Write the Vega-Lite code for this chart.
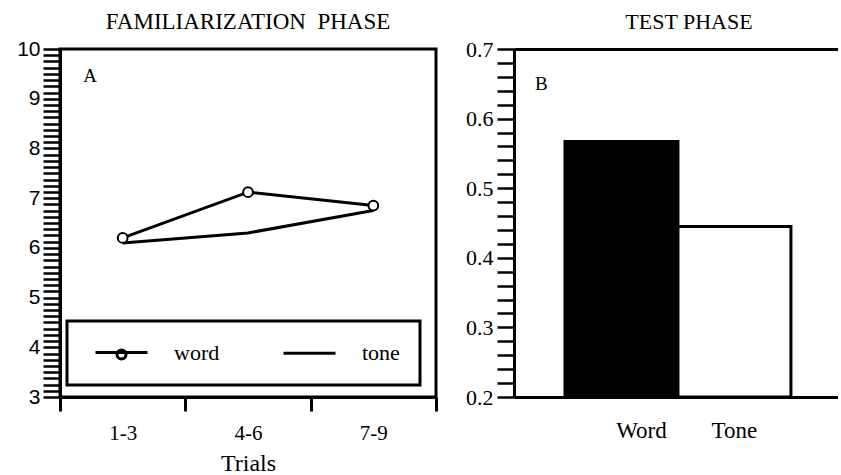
{
  "$schema": "https://vega.github.io/schema/vega-lite/v6.json",
  "background": "white",
  "padding": {"left": 15, "top": 9, "right": 0, "bottom": 0},
  "spacing": 26,
  "resolve": {"scale": {"color": "independent"}, "legend": {"color": "independent"}},
  "config": {
    "font": "Liberation Serif",
    "axis": {"labelColor": "black", "tickColor": "black", "domainColor": "black", "titleColor": "black", "grid": false, "titleFontWeight": "normal", "domainWidth": 3},
    "title": {"font": "Liberation Serif", "fontWeight": "normal", "color": "black", "anchor": "middle", "frame": "group"}
  },
  "hconcat": [
    {
      "title": {"text": "FAMILIARIZATION\u00a0 PHASE", "fontSize": 23, "offset": 4},
      "width": 376,
      "height": 348,
      "view": {"stroke": "black", "strokeWidth": 3},
      "data": {"values": [
        {"trials": "1-3", "series": "word", "value": 6.2},
        {"trials": "4-6", "series": "word", "value": 7.12},
        {"trials": "7-9", "series": "word", "value": 6.85},
        {"trials": "1-3", "series": "tone", "value": 6.1},
        {"trials": "4-6", "series": "tone", "value": 6.3},
        {"trials": "7-9", "series": "tone", "value": 6.75}
      ]},
      "layer": [
        {
          "mark": {"type": "line", "strokeWidth": 3},
          "encoding": {
            "x": {"field": "trials", "type": "nominal", "scale": {"domain": ["1-3", "4-6", "7-9"], "paddingInner": 0, "paddingOuter": 0},
              "axis": {"title": "Trials", "titleFont": "Liberation Serif", "titleFontSize": 24, "titlePadding": 8, "labelAngle": 0, "labelFont": "Liberation Serif", "labelFontSize": 21, "labelPadding": 11, "tickBand": "extent", "tickSize": 14, "tickWidth": 3}},
            "y": {"field": "value", "type": "quantitative", "scale": {"domain": [3, 10], "zero": false, "nice": false},
              "axis": {"title": null, "labelFont": "Liberation Sans", "labelFontSize": 21, "labelPadding": 3, "tickSize": 17, "tickWidth": 2.5, "labelOverlap": false, "labelFlush": false, "format": ".0f", "tickCount": 200,
                "values": [3,3.125,3.25,3.375,3.5,3.625,3.75,3.875,4,4.125,4.25,4.375,4.5,4.625,4.75,4.875,5,5.125,5.25,5.375,5.5,5.625,5.75,5.875,6,6.125,6.25,6.375,6.5,6.625,6.75,6.875,7,7.125,7.25,7.375,7.5,7.625,7.75,7.875,8,8.125,8.25,8.375,8.5,8.625,8.75,8.875,9,9.125,9.25,9.375,9.5,9.625,9.75,9.875,10],
                "labelExpr": "abs(datum.value - round(datum.value)) < 0.001 ? datum.label : ''",
                "encode": {"ticks": {"update": {
                  "x": {"signal": "abs(datum.value - round(datum.value)) < 0.001 ? 0 : 4"},
                  "x2": {"signal": "abs(datum.value - round(datum.value)) < 0.001 ? -17 : -8"}
                }}}}},
            "color": {"field": "series", "type": "nominal", "scale": {"domain": ["word", "tone"], "range": ["black", "black"]},
              "legend": {"title": null, "orient": "none", "legendX": 7, "legendY": 272, "direction": "horizontal",
                "strokeColor": "black", "fillColor": "white", "padding": 20,
                "symbolSize": 400, "symbolStrokeWidth": 3, "symbolStrokeColor": "black", "symbolFillColor": "white",
                "symbolOffset": 23, "labelOffset": 41, "columnPadding": 55,
                "labelFont": "Liberation Serif", "labelFontSize": 22, "labelColor": "black",
                "encode": {
                  "legend": {"update": {"strokeWidth": {"value": 3}}},
                  "symbols": {"update": {
                    "shape": {"signal": "datum.value === 'word' ? 'M-2.6,0L2.6,0M-0.45,0.2A0.45,0.45 0 1,0 0.45,0.2A0.45,0.45 0 1,0 -0.45,0.2Z' : 'M-2.6,0L2.6,0'"},
                    "fill": {"value": "white"},
                    "stroke": {"value": "black"},
                    "strokeWidth": {"value": 3}
                  }}
                }}}
          }
        },
        {
          "transform": [{"filter": "datum.series === 'word'"}],
          "mark": {"type": "point", "shape": "circle", "filled": true, "fill": "white", "stroke": "black", "strokeWidth": 2, "size": 95, "opacity": 1},
          "encoding": {
            "x": {"field": "trials", "type": "nominal"},
            "y": {"field": "value", "type": "quantitative"}
          }
        },
        {
          "data": {"values": [{"panel": "A"}]},
          "mark": {"type": "text", "font": "Liberation Serif", "fontSize": 19, "color": "black"},
          "encoding": {
            "x": {"datum": "1-3", "type": "nominal", "bandPosition": 0.24},
            "y": {"datum": 9.45, "type": "quantitative"},
            "text": {"field": "panel"}
          }
        }
      ]
    },
    {
      "title": {"text": "TEST PHASE", "fontSize": 22, "offset": 4, "dx": 13},
      "width": 324,
      "height": 348,
      "view": {"stroke": null},
      "layer": [
        {
          "data": {"values": [
            {"condition": "Word", "score": 0.567},
            {"condition": "Tone", "score": 0.445}
          ]},
          "mark": {"type": "bar", "stroke": "black", "strokeWidth": 3},
          "encoding": {
            "x": {"field": "condition", "type": "nominal", "sort": ["Word", "Tone"], "scale": {"paddingInner": 0, "paddingOuter": 0.434, "align": 0.52},
              "axis": {"title": null, "labelAngle": 0, "ticks": false, "labelPadding": 22, "labelFont": "Liberation Serif", "labelFontSize": 23,
                "labelOffset": {"condition": {"test": "datum.value === 'Word'", "value": 20}, "value": 0}}},
            "y": {"field": "score", "type": "quantitative", "scale": {"domain": [0.2, 0.7], "zero": false, "nice": false},
              "axis": {"title": null, "labelFont": "Liberation Serif", "labelFontSize": 22, "labelPadding": 4, "tickSize": 17, "tickWidth": 2.5, "labelOverlap": false, "labelFlush": false, "format": ".1f", "tickCount": 200,
                "values": [0.2,0.22,0.24,0.26,0.28,0.3,0.32,0.34,0.36,0.38,0.4,0.42,0.44,0.46,0.48,0.5,0.52,0.54,0.56,0.58,0.6,0.62,0.64,0.66,0.68,0.7],
                "labelExpr": "abs(datum.value * 10 - round(datum.value * 10)) < 0.001 ? datum.label : ''",
                "encode": {"ticks": {"update": {
                  "x": {"signal": "abs(datum.value * 10 - round(datum.value * 10)) < 0.001 ? 0 : 2"},
                  "x2": {"signal": "abs(datum.value * 10 - round(datum.value * 10)) < 0.001 ? -17 : -8"}
                }}}}},
            "y2": {"datum": 0.2},
            "color": {"field": "condition", "type": "nominal", "scale": {"domain": ["Word", "Tone"], "range": ["black", "white"]}, "legend": null}
          }
        },
        {
          "data": {"values": [{"panel": "B"}]},
          "mark": {"type": "text", "font": "Liberation Serif", "fontSize": 19, "color": "black"},
          "encoding": {
            "x": {"datum": "Word", "type": "nominal", "bandPosition": -0.21,
              "axis": {"orient": "top", "title": null, "labels": false, "ticks": false, "domainWidth": 3}},
            "y": {"datum": 0.65, "type": "quantitative"},
            "text": {"field": "panel"}
          }
        }
      ],
      "resolve": {"axis": {"x": "independent"}}
    }
  ]
}
